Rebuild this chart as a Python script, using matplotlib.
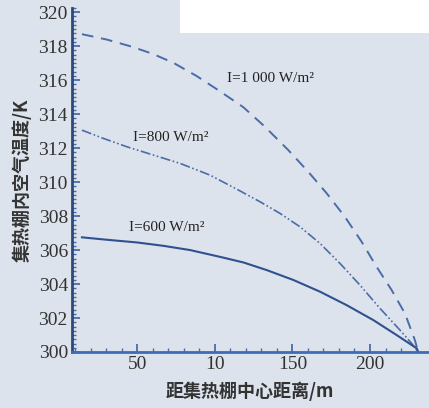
import matplotlib.pyplot as plt
from matplotlib.ticker import MultipleLocator, FixedLocator
from matplotlib.patches import Rectangle

plt.rcParams['font.family'] = ['Liberation Serif', 'DejaVu Serif']

# Datos
x_1000 = [14.4, 30.5, 45.5, 59.5, 73.4, 88.4, 102.3, 118.4, 132.4, 147.4, 160.2,
          172.1, 183.8, 194.6, 204.2, 213.9, 222.5, 228.9, 231]
y_1000 = [318.71, 318.39, 318.0, 317.57, 317.02, 316.24, 315.41, 314.41, 313.25, 311.88, 310.61,
          309.34, 307.96, 306.49, 305.02, 303.65, 302.27, 300.7, 300.0]

x_800 = [14.4, 28.3, 43.4, 60.5, 77.7, 97, 116.3, 129.2, 142, 154.9, 167.8,
         180.6, 193.5, 206.4, 219.3, 226.8, 231]
y_800 = [313.06, 312.57, 312.08, 311.59, 311.1, 310.41, 309.48, 308.84, 308.16, 307.37, 306.39,
         305.22, 303.94, 302.57, 301.29, 300.51, 300.0]

x_600 = [14.4, 32.6, 49.8, 66.9, 84.1, 103.4, 118.5, 133.5, 150.6, 167.8, 184.9,
         202.1, 217.1, 230, 231]
y_600 = [306.75, 306.59, 306.45, 306.25, 306.0, 305.6, 305.27, 304.82, 304.24, 303.55, 302.76,
         301.88, 301.0, 300.22, 300.0]

xticks = [50, 100, 150, 200]
xtick_labels = ["50", "10", "150", "200"]
yticks = [300, 302, 304, 306, 308, 310, 312, 314, 316, 318, 320]

bg = '#dde3ec'
line_c = '#4a6ca8'
spine_c = '#2d4a7a'

fig = plt.figure(figsize=(4.29, 4.08), dpi=100, facecolor=bg)
ax = fig.add_axes([72/429, 56/408, 357/429, 344/408])
ax.set_facecolor(bg)

# zona blanca arriba a la derecha (escaneo)
fig.patches.append(Rectangle((180/429, 375/408), 1, 1, transform=fig.transFigure,
                             facecolor='white', edgecolor='none', zorder=2))

ax.plot(x_1000, y_1000, color=line_c, lw=1.4, linestyle=(0, (6, 4)))
ax.plot(x_800, y_800, color=line_c, lw=1.2, linestyle=(0, (6, 1.5, 1, 1.5, 1, 1.5)))
ax.plot(x_600, y_600, color='#2f5190', lw=1.5)

ax.text(108, 316.1, "I=1 000 W/m²", fontsize=11, color='#222222', va='center')
ax.text(47, 312.6, "I=800 W/m²", fontsize=11, color='#222222', va='center')
ax.text(45, 307.3, "I=600 W/m²", fontsize=11, color='#222222', va='center')

ax.set_xlim(8, 238)
ax.set_ylim(300, 320.25)

ax.xaxis.set_major_locator(FixedLocator(xticks))
ax.set_xticklabels(xtick_labels)
ax.xaxis.set_minor_locator(MultipleLocator(10))
ax.set_yticks(yticks)
ax.yaxis.set_minor_locator(MultipleLocator(0.25))

ax.tick_params(which='major', direction='in', length=6, width=1.3, color=line_c,
               labelsize=14, labelcolor='#333333', pad=3)
ax.tick_params(which='minor', direction='in', length=3, width=1, color=line_c)

for s in ['top', 'right']:
    ax.spines[s].set_visible(False)
ax.spines['left'].set_color(spine_c)
ax.spines['left'].set_linewidth(2)
ax.spines['bottom'].set_color('#3d6cb8')
ax.spines['bottom'].set_linewidth(2)

cjk = ['Noto Sans CJK SC', 'DejaVu Sans']
ax.set_xlabel("距集热棚中心距离/m", family=cjk, fontsize=13, fontweight='bold',
              color='#333333')
ax.set_ylabel("集热棚内空气温度/K", family=cjk, fontsize=13, fontweight='bold',
              color='#333333')
ax.xaxis.set_label_coords((250 - 72) / 357, -(382 - 352) / 344)
ax.yaxis.set_label_coords(-(72 - 32) / 357, (352 - 180) / 344)

plt.savefig('out.png', dpi=100, facecolor=bg)
